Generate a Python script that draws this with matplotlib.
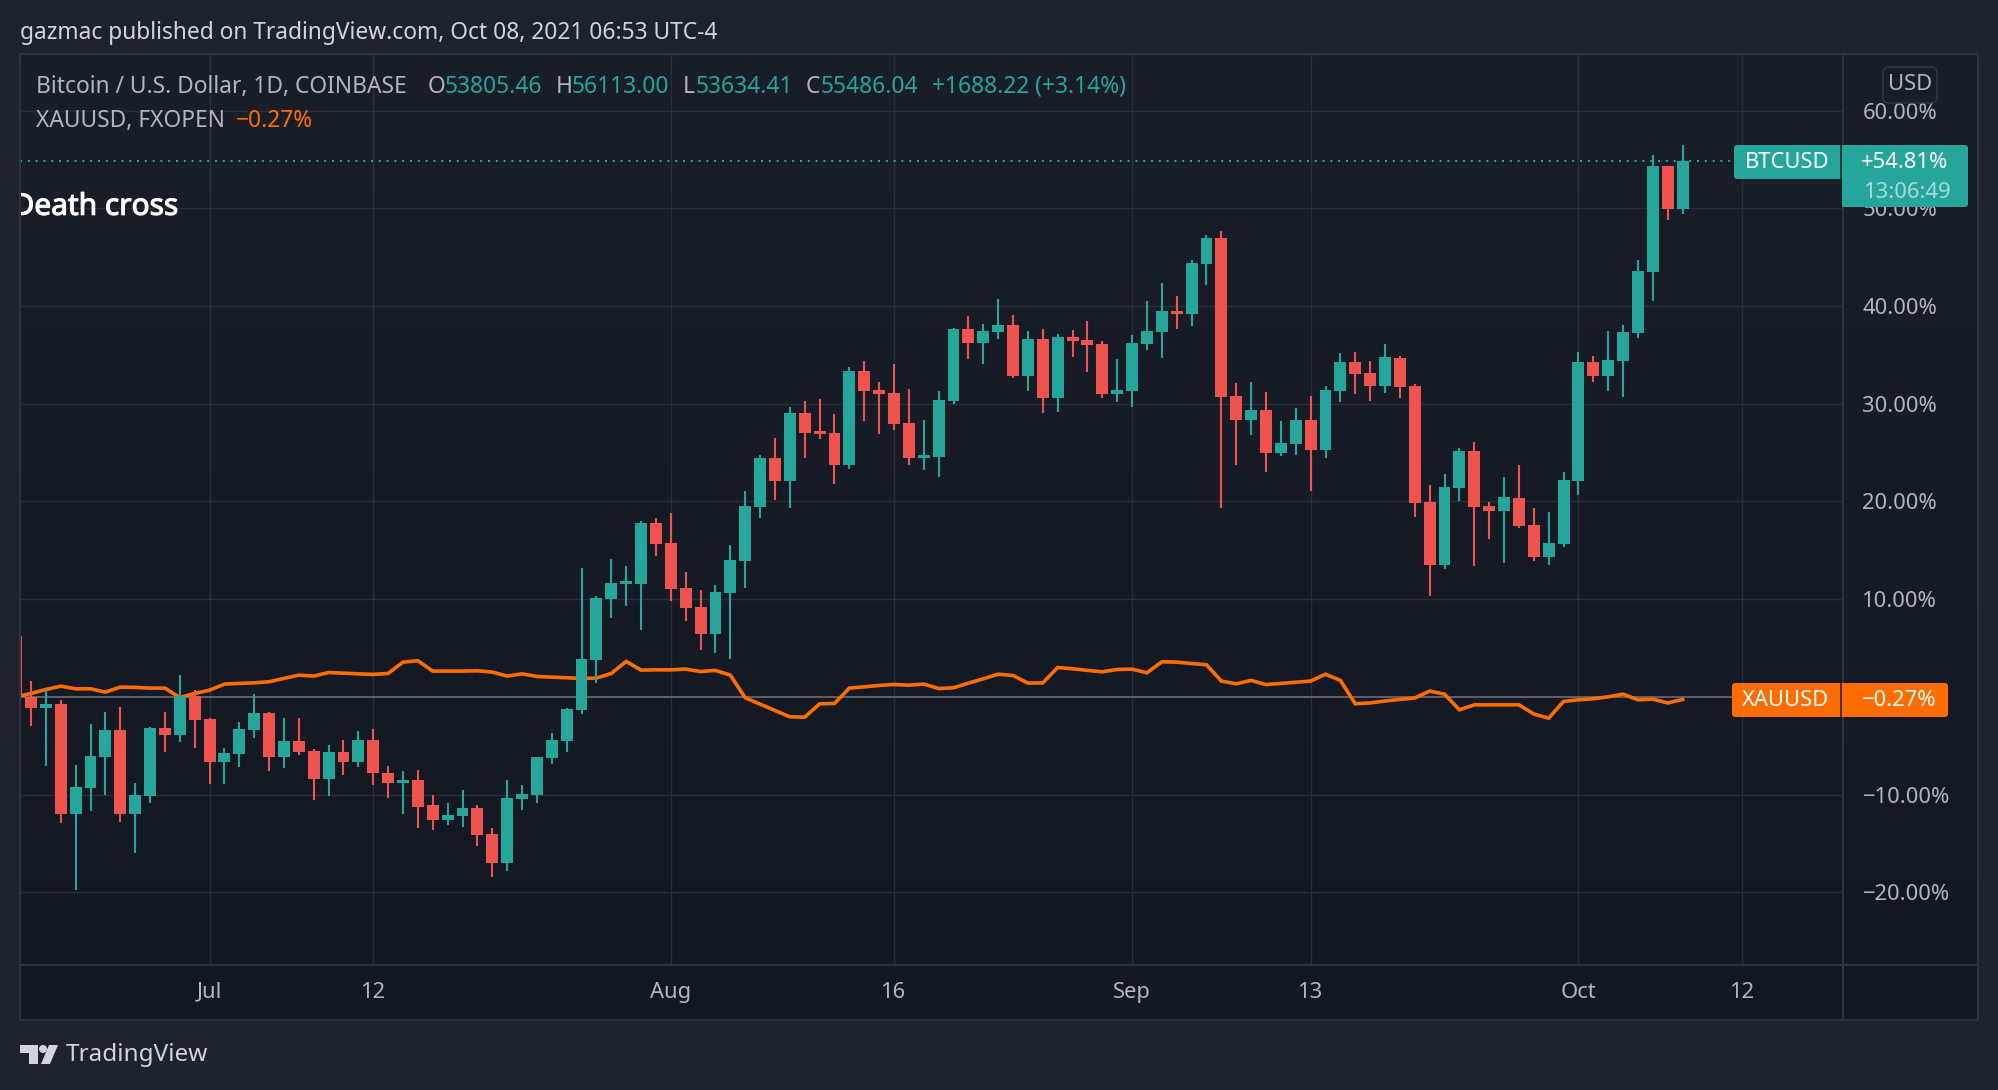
import matplotlib
matplotlib.use("Agg")
import matplotlib.pyplot as plt
import matplotlib.dates as mdates
import matplotlib.patheffects as pe
import numpy as np
import pandas as pd
from matplotlib.patches import FancyBboxPatch, Rectangle, Polygon, Circle

W, H = 1998, 1090
FONT = "Noto Sans"
plt.rcParams["font.family"] = [FONT, "DejaVu Sans"]

first_day = "2021-06-18"
last_day = "2021-10-08"

btc_open = [6.21, -0.07, -1.16, -0.75, -12.01, -9.35, -6.18, -3.41, -12.01, -10.17, -3.21, -3.92, 0.07, -2.29, -6.69,
            -5.87, -3.41, -1.67, -6.18, -4.54, -5.56, -8.43, -5.67, -6.69, -4.44, -7.82, -8.84, -8.53, -11.09, -12.63,
            -12.22, -11.40, -14.06, -17.03, -10.48, -10.07, -6.28, -4.54, -1.37, 3.75, 10.00, 11.54, 11.57, 17.82, 15.77,
            11.16, 9.22, 6.45, 10.65, 13.92, 19.45, 24.47, 22.12, 29.08, 27.24, 27.03, 23.75, 33.38, 31.43, 31.13,
            28.05, 24.47, 24.57, 30.31, 37.68, 36.25, 37.37, 38.09, 32.87, 36.66, 30.61, 36.86, 36.55, 36.14, 31.02,
            31.33, 36.14, 37.37, 39.52, 39.17, 44.30, 46.96, 30.79, 28.32, 29.34, 24.95, 25.85, 28.32, 25.26, 31.30,
            34.27, 33.14, 31.81, 34.66, 31.81, 19.94, 13.47, 21.35, 25.15, 19.51, 19.00, 20.33, 17.59, 14.30, 15.63,
            22.09, 34.27, 32.82, 34.35, 37.21, 43.48, 54.33, 49.94]
btc_high = [6.21, 1.60, 0.78, -0.34, -7.00, -2.80, -1.57, -1.06, -8.84, -3.11, -1.57, 2.22, 0.68, -2.18, -5.26,
            -2.59, 0.27, -1.57, -2.18, -2.18, -5.36, -4.95, -4.44, -3.52, -3.31, -7.10, -7.61, -7.51, -10.07, -10.89,
            -9.56, -11.09, -13.45, -8.53, -9.04, -6.18, -3.72, -1.16, 13.17, 10.31, 14.13, 13.41, 18.02, 18.33, 18.84,
            12.80, 10.96, 11.47, 15.56, 21.09, 24.78, 26.52, 29.69, 30.31, 30.51, 28.98, 33.79, 34.40, 32.25, 34.10,
            31.54, 28.36, 31.33, 37.78, 39.01, 38.19, 40.75, 39.11, 37.47, 37.68, 37.17, 37.58, 38.50, 36.45, 34.61,
            37.06, 40.51, 42.35, 41.02, 44.69, 47.28, 47.67, 32.12, 32.20, 31.18, 28.24, 29.53, 30.79, 31.81, 35.17,
            35.29, 34.35, 36.11, 34.86, 32.00, 21.66, 22.80, 25.46, 26.09, 19.94, 22.48, 23.74, 19.31, 18.92, 22.99,
            35.29, 34.86, 37.45, 38.03, 44.69, 55.46, 54.33, 56.48]
btc_low = [-0.07, -3.00, -7.10, -12.94, -19.80, -11.71, -10.07, -12.83, -16.01, -10.89, -5.67, -4.64, -5.26, -8.94, -8.94,
           -7.20, -4.23, -7.61, -7.30, -5.97, -10.58, -10.17, -8.02, -7.20, -9.04, -10.38, -12.01, -13.45, -13.65, -13.14,
           -13.34, -15.29, -18.46, -17.85, -11.60, -10.89, -6.89, -5.67, -1.77, 1.40, 8.05, 9.32, 6.86, 14.44, 9.83,
           7.78, 4.81, 4.51, 3.89, 11.16, 18.33, 20.17, 19.35, 24.47, 26.42, 21.81, 23.34, 28.26, 26.93, 27.34,
           23.75, 23.24, 22.53, 30.00, 34.61, 34.10, 36.66, 32.66, 31.33, 29.08, 29.18, 34.81, 33.28, 30.61, 30.20,
           29.69, 35.53, 34.71, 37.64, 37.96, 42.15, 19.31, 23.74, 26.79, 22.99, 24.64, 24.76, 21.07, 24.44, 30.16,
           30.98, 30.28, 31.10, 30.59, 18.41, 10.30, 13.08, 20.02, 13.40, 16.14, 13.67, 17.27, 13.91, 13.47, 15.32,
           20.64, 32.20, 31.30, 30.67, 36.70, 40.50, 48.81, 49.39]
btc_close = [-0.07, -1.16, -0.75, -12.01, -9.25, -6.08, -3.41, -12.01, -10.07, -3.21, -3.92, 0.07, -2.39, -6.69, -5.77,
             -3.31, -1.67, -6.18, -4.54, -5.67, -8.43, -5.67, -6.69, -4.44, -7.82, -8.84, -8.53, -11.30, -12.63, -12.12,
             -11.40, -14.16, -17.03, -10.38, -9.97, -6.18, -4.44, -1.26, 3.86, 10.10, 11.64, 11.67, 17.82, 15.67, 11.06,
             9.11, 6.45, 10.75, 14.03, 19.56, 24.47, 22.12, 29.08, 27.03, 26.93, 23.75, 33.38, 31.33, 31.02, 27.95,
             24.47, 24.68, 30.41, 37.68, 36.25, 37.47, 38.09, 32.87, 36.66, 30.61, 36.86, 36.45, 36.04, 31.02, 31.43,
             36.25, 37.47, 39.52, 39.22, 44.38, 46.96, 30.67, 28.32, 29.34, 24.95, 25.97, 28.32, 25.26, 31.41, 34.27,
             33.02, 31.81, 34.78, 31.69, 19.82, 13.47, 21.46, 25.15, 19.43, 19.00, 20.45, 17.47, 14.30, 15.75, 22.17,
             34.27, 32.82, 34.47, 37.33, 43.60, 54.33, 49.94, 54.81]
xau_pct = [0.00, 0.34, 0.75, 1.09, 0.82, 0.82, 0.48, 0.99, 0.96, 0.89, 0.89, -0.07, 0.34, 0.68, 1.30,
           1.37, 1.43, 1.54, 1.88, 2.22, 2.12, 2.49, 2.42, 2.35, 2.29, 2.39, 3.55, 3.69, 2.63, 2.63,
           2.63, 2.66, 2.53, 2.12, 2.35, 2.08, 2.01, 1.95, 1.88, 1.91, 2.39, 3.62, 2.73, 2.76, 2.76,
           2.83, 2.59, 2.70, 2.22, -0.10, -0.75, -1.40, -2.05, -2.08, -0.72, -0.68, 0.89, 1.02, 1.16, 1.26,
           1.19, 1.30, 0.85, 0.92, 1.40, 1.84, 2.32, 2.18, 1.40, 1.43, 3.00, 2.87, 2.70, 2.56, 2.80,
           2.83, 2.46, 3.58, 3.55, 3.41, 3.28, 1.61, 1.33, 1.68, 1.25, 1.37, 1.49, 1.61, 2.31, 1.68,
           -0.71, -0.63, -0.43, -0.27, -0.12, 0.59, 0.27, -1.33, -0.82, -0.82, -0.82, -0.82, -1.76, -2.19, -0.47,
           -0.31, -0.20, 0.00, 0.27, -0.31, -0.24, -0.63, -0.27]

y_ticks = [-20, -10, 10, 20, 30, 40, 50, 60]
y_grid = [-20, -10, 0, 10, 20, 30, 40, 50, 60]
x_tick_dates = ["2021-07-01", "2021-07-12", "2021-08-01", "2021-08-16",
                "2021-09-01", "2021-09-13", "2021-10-01", "2021-10-12"]
x_tick_labels = ["Jul", "12", "Aug", "16", "Sep", "13", "Oct", "12"]

OUTER = "#1e222d"
GRID = "#2a2e39"
EDGE = "#2f323e"
TEAL = "#26a69a"
RED = "#ef5350"
GOLD = "#ff6d00"
LABEL = "#b2b5be"
HEAD = "#d1d4dc"
TICK_SIZE = 15.8
HEAD_SIZE = 16.4

def rect(x0, y0, x1, y1):
    return [x0 / W, 1 - y1 / H, (x1 - x0) / W, (y1 - y0) / H]

fig = plt.figure(figsize=(W / 100, H / 100), dpi=100, facecolor=OUTER)

# panel background
bg = fig.add_axes(rect(20, 54, 1978, 1020))
bg.axis("off")
grad = np.linspace(0, 1, 256).reshape(-1, 1, 1)
top = np.array(matplotlib.colors.to_rgb("#1a1e29"))
bot = np.array(matplotlib.colors.to_rgb("#131722"))
bg.imshow(top + (bot - top) * grad, aspect="auto", extent=(0, 1, 0, 1))

# main chart
ax = fig.add_axes(rect(20, 54, 1843, 965))
ax.patch.set_alpha(0)
for s in ax.spines.values():
    s.set_visible(False)

dates = pd.date_range(first_day, last_day, freq="D")
xs = mdates.date2num(dates)
jul1 = mdates.date2num(pd.Timestamp("2021-07-01"))
ax.set_xlim(jul1 - 12.74, jul1 + 109.78)
ax.set_ylim(-27.45, 65.79)

o, h, l, c = map(np.array, (btc_open, btc_high, btc_low, btc_close))
up = c >= o
cols = np.where(up, TEAL, RED)

ax.set_yticks(y_ticks)
ax.set_yticklabels([f"{v:.2f}%".replace("-", "\u2212") for v in y_ticks])
ax.yaxis.tick_right()
for lab in ax.get_yticklabels():
    lab.set_ha("left")
ax.tick_params(axis="y", length=0, pad=14, labelsize=TICK_SIZE, labelcolor=LABEL)
ax.set_xticks(mdates.date2num(pd.to_datetime(x_tick_dates)))
ax.set_xticklabels(x_tick_labels)
ax.tick_params(axis="x", length=0, pad=12, labelsize=TICK_SIZE, labelcolor=LABEL)
ax.vlines(mdates.date2num(pd.to_datetime(x_tick_dates)), -27.45, 65.79, color=GRID, lw=1.0, zorder=1)
ax.hlines([v for v in y_grid if v != 0], ax.get_xlim()[0], ax.get_xlim()[1], color=GRID, lw=1.0, zorder=1)

ax.axhline(0, color="#6a6d78", lw=1.2, zorder=2, xmax=(1732 - 20) / (1843 - 20))
ax.plot(xs, xau_pct, color=GOLD, lw=2.6, zorder=3, solid_joinstyle="miter")
ax.hlines(btc_close[-1], ax.get_xlim()[0], mdates.date2num(pd.Timestamp(last_day)) + 3.4, color=TEAL, lw=1.44,
          linestyles=[(0, (1, 2.9))], zorder=2)
ax.vlines(xs, l, h, colors=cols, lw=1.5, zorder=4)
ax.bar(xs, np.maximum(np.abs(c - o), 0.3), bottom=np.minimum(o, c), width=0.8, color=cols, linewidth=0, zorder=5)

ax.text(jul1 - 2.12, 50.1, "Death cross", ha="right", va="center", color="white", fontsize=21.5,
        clip_on=True, zorder=6, path_effects=[pe.withStroke(linewidth=0.8, foreground="white")])

# overlay in pixel units: frame, tags, header and logo
ov = fig.add_axes([0, 0, 1, 1])
ov.set_xlim(0, W)
ov.set_ylim(H, 0)
ov.axis("off")
ov.patch.set_alpha(0)
for xy0, xy1 in [((20, 54), (1978, 54)), ((20, 1020), (1978, 1020)), ((20, 54), (20, 1020)),
                 ((1978, 54), (1978, 1020)), ((1843, 54), (1843, 1020)), ((20, 965), (1978, 965))]:
    ov.plot([xy0[0], xy1[0]], [xy0[1], xy1[1]], color=EDGE, lw=1.5, solid_capstyle="butt")

def tag(x0, y0, x1, y1, color):
    ov.add_patch(FancyBboxPatch((x0 + 3, y0 + 3), x1 - x0 - 6, y1 - y0 - 6, boxstyle="round,pad=3,rounding_size=3",
                                fc=color, ec="none", mutation_aspect=1, zorder=5))

def txt(x, y, s, color=LABEL, size=HEAD_SIZE, ha="left", **kw):
    ov.text(x, y, s, color=color, fontsize=size, ha=ha, va="center", zorder=6, **kw)

tag(1734, 145, 1842, 179, TEAL)
ov.add_patch(Rectangle((1839, 145), 3, 34, fc=TEAL, ec="none", zorder=5))
tag(1842, 145, 1968, 207, TEAL)
ov.add_patch(Rectangle((1842, 145), 4, 62, fc=TEAL, ec="none", zorder=5))
ov.plot([1841, 1841], [145, 179], color=OUTER, lw=1.2, zorder=5.5)
txt(1787, 163, "BTCUSD", "white", size=TICK_SIZE, ha="center")
txt(1905, 163, "+54.81%", "white", size=TICK_SIZE, ha="center")
txt(1908, 192, "13:06:49", "#a8dcd7", size=TICK_SIZE, ha="center")

tag(1732, 683, 1842, 717, GOLD)
ov.add_patch(Rectangle((1839, 683), 3, 34, fc=GOLD, ec="none", zorder=5))
tag(1842, 683, 1948, 717, GOLD)
ov.add_patch(Rectangle((1842, 683), 4, 34, fc=GOLD, ec="none", zorder=5))
ov.plot([1841, 1841], [683, 717], color=OUTER, lw=1.2, zorder=5.5)
txt(1786, 701, "XAUUSD", "white", size=TICK_SIZE, ha="center")
txt(1899, 701, "\u22120.27%", "white", size=TICK_SIZE, ha="center")

ov.add_patch(FancyBboxPatch((1889, 73), 42, 24, boxstyle="round,pad=6,rounding_size=6", fc="#1a1e29", ec="#363a45",
                            lw=1.2, alpha=0.75, zorder=4))
txt(1910, 85, "USD", LABEL, size=TICK_SIZE, ha="center")

txt(20, 33, "gazmac published on TradingView.com, Oct 08, 2021 06:53 UTC-4", HEAD)
txt(36, 87, "Bitcoin / U.S. Dollar, 1D, COINBASE", LABEL)
for xl, letter, xv, val in [(428, "O", 445, "53805.46"), (556, "H", 572, "56113.00"),
                            (683, "L", 696, "53634.41"), (806, "C", 821, "55486.04")]:
    txt(xl, 87, letter, LABEL)
    txt(xv, 87, val, TEAL)
txt(932, 87, "+1688.22 (+3.14%)", TEAL)
txt(36, 121, "XAUUSD, FXOPEN", LABEL)
txt(236, 121, "\u22120.27%", GOLD)

LOGO = "#d1d4dc"
ov.add_patch(Polygon([(20, 1045), (38, 1045), (38, 1064), (29, 1064), (29, 1053), (20, 1053)], fc=LOGO, ec="none"))
ov.add_patch(Circle((43, 1049), 4, fc=LOGO, ec="none"))
ov.add_patch(Polygon([(49, 1045), (58, 1045), (50, 1064), (41, 1064)], fc=LOGO, ec="none"))
txt(66, 1055, "TradingView", HEAD, size=17.5)

fig.savefig("out.png", dpi=100, facecolor=OUTER)
